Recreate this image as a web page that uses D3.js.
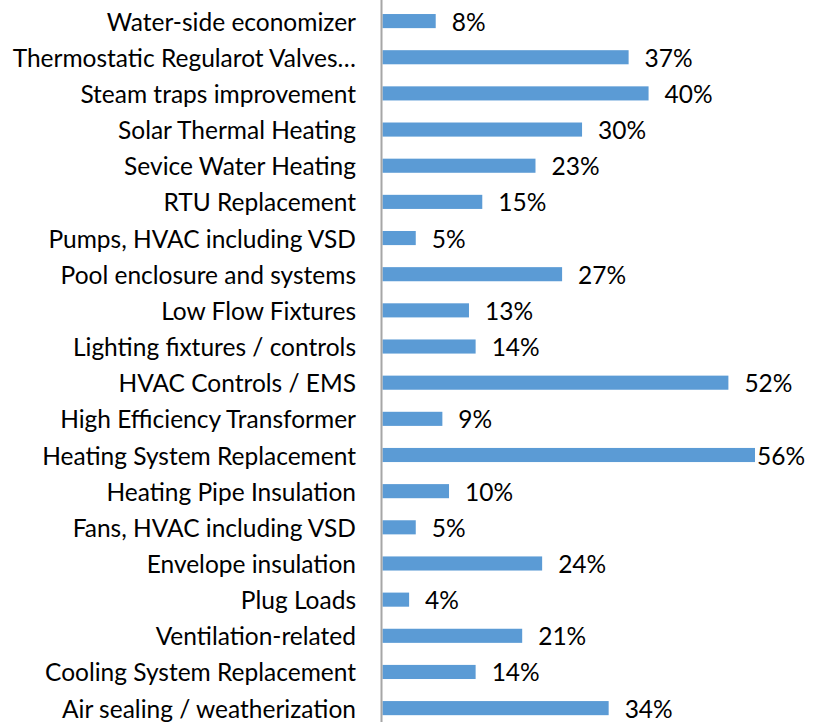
<!DOCTYPE html>
<html><head><meta charset="utf-8">
<script src="https://cdn.jsdelivr.net/npm/d3@7"></script>
<style>html,body{margin:0;padding:0;background:#fff;}svg{display:block;}</style>
</head><body>
<script>
const categories = ["Water-side economizer","Thermostatic Regularot Valves…","Steam traps improvement","Solar Thermal Heating","Sevice Water Heating","RTU Replacement","Pumps, HVAC including VSD","Pool enclosure and systems","Low Flow Fixtures","Lighting fixtures / controls","HVAC Controls / EMS ","High Efficiency Transformer","Heating System Replacement","Heating Pipe Insulation","Fans, HVAC including VSD","Envelope insulation","Plug Loads","Ventilation-related","Cooling System Replacement","Air sealing / weatherization"];
const values = [8,37,40,30,23,15,5,27,13,14,52,9,56,10,5,24,4,21,14,34];
const valueLabels = values.map(v => v + "%");

const W = 826, H = 722;
const svg = d3.select("body").append("svg").attr("width", W).attr("height", H);
const font = "Lato, 'Noto Sans', sans-serif";
const fs = 24.5;

const x = d3.scaleLinear().domain([0, 56]).range([382.5, 755]);
const y = d3.scaleBand().domain(categories).range([3, 726.2]).paddingInner(0.61).paddingOuter(0.305);

svg.selectAll("rect.bar").data(categories).join("rect")
  .attr("class","bar")
  .attr("x", x(0))
  .attr("y", d => y(d))
  .attr("width", (d,i) => x(values[i]) - x(0))
  .attr("height", y.bandwidth())
  .attr("fill", "#5B9BD5");

svg.selectAll("text.cat").data(categories).join("text")
  .attr("class","cat")
  .attr("x", 356)
  .attr("y", d => y(d) + y.bandwidth()/2)
  .attr("text-anchor","end")
  .attr("dominant-baseline","central")
  .attr("font-family", font)
  .attr("font-size", fs)
  .attr("fill","#000")
  .text(d => d);

svg.selectAll("text.val").data(categories).join("text")
  .attr("class","val")
  .attr("x", (d,i) => Math.min(x(values[i]) + 16, 757))
  .attr("y", d => y(d) + y.bandwidth()/2)
  .attr("dominant-baseline","central")
  .attr("font-family", font)
  .attr("font-size", fs)
  .attr("fill","#000")
  .text((d,i) => valueLabels[i]);

svg.append("line")
  .attr("x1", 381.5).attr("x2", 381.5)
  .attr("y1", 0).attr("y2", H)
  .attr("stroke", "#a6a6a6").attr("stroke-width", 2);
</script>
</body></html>
